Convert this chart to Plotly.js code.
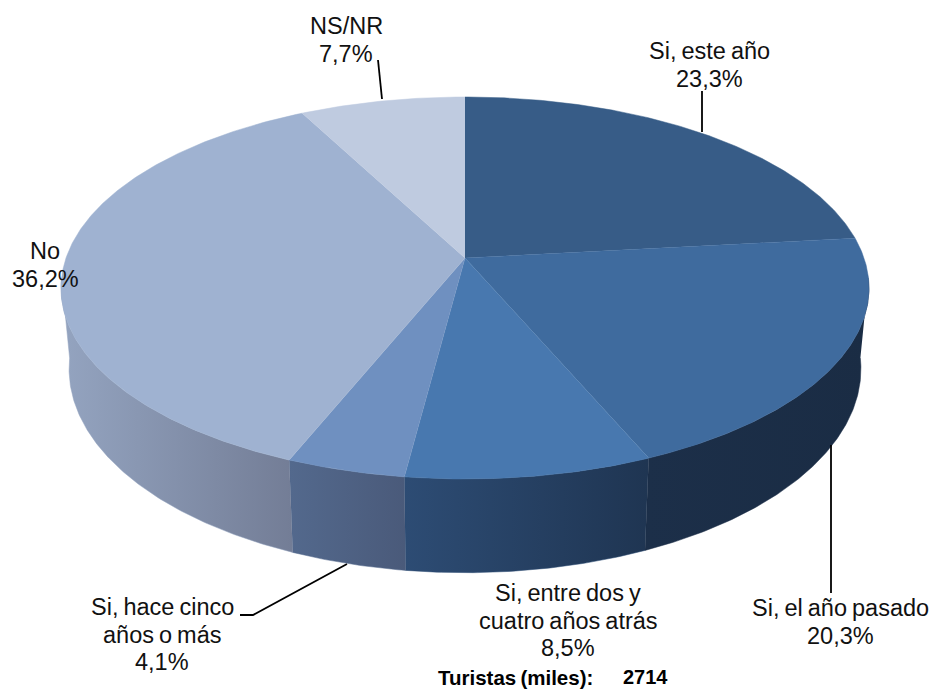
<!DOCTYPE html>
<html><head><meta charset="utf-8">
<script src="https://cdn.plot.ly/plotly-3.0.1.min.js"></script>
<style>html,body{margin:0;padding:0;background:#fff}#c{width:931px;height:691px}
.annotation-text{word-spacing:-1.5px}</style></head>
<body><div id="c"></div>
<script>
const categories = ["Si, este año","Si, el año pasado","Si, entre dos y cuatro años atrás","Si, hace cinco años o más","No","NS/NR"];
const values = [23.3,20.3,8.5,4.1,36.2,7.7];
const topColors = ["#375C87","#3F6B9E","#4878AF","#6F90C0","#9FB2D1","#BFCBE0"];
const wallLeft  = ["#1b2d45","#1c2f49","#2d4c74","#53698d","#94a4c0","#94a4c0"];
const wallRight = ["#1b2d45","#1a2c44","#1f3552","#4a5a7a","#737d96","#737d96"];
const labelLines = [["Si, este año","23,3%"],["Si, el año pasado","20,3%"],["Si, entre dos y","cuatro años atrás","8,5%"],["Si, hace cinco","años o más","4,1%"],["No","36,2%"],["NS/NR","7,7%"]];
const labelX = [709,840,568,162,45,346];
const labelY = [51,608,593,607,251,26];
const footerTexts = ["Turistas (miles):","2714"];
const leaderLines = [
  [[702,91],[702,132]],
  [[831,445],[831,593]],
  [[347,564],[253,615],[240,615]],
  [[378,60],[382,99]]
];

const cx=465, cy=258, Rx=399, Ry=186.3, p=0.157, depth=79, shrink=0.98;
function proj(tDeg){
  const t=tDeg*Math.PI/180, X=Math.sin(t), Y=Math.cos(t), s=1/(1+p*Y);
  return {x:cx+Rx*X*s, y:cy-Ry*Y*s, s};
}
function bottom(tDeg){
  const q=proj(tDeg);
  return {x:cx+(q.x-cx)*shrink, y:q.y+depth*q.s};
}
const total=values.reduce((a,b)=>a+b,0);
let acc=0;
const spans=values.map(v=>{const a=acc/total*360; acc+=v; return [a,acc/total*360];});

function steps(a,b){const n=Math.max(2,Math.ceil(Math.abs(b-a)/0.5)),o=[];for(let i=0;i<=n;i++)o.push(a+(b-a)*i/n);return o;}

const traces=[];
spans.forEach(([a,b],i)=>{
  const lo=Math.max(a,96), hi=Math.min(b,264);
  if(hi<=lo) return;
  const ts=steps(lo,hi);
  const up=ts.map(proj), dn=ts.slice().reverse().map(bottom);
  const pts=up.concat(dn);
  traces.push({type:"scatter",mode:"lines",x:pts.map(q=>q.x),y:pts.map(q=>q.y),fill:"toself",
    line:{width:0.5,color:wallLeft[i]},hoverinfo:"skip",showlegend:false,
    fillcolor:wallLeft[i],
    fillgradient:{type:"horizontal",colorscale:[[0,wallLeft[i]],[1,wallRight[i]]]}});
});
spans.forEach(([a,b],i)=>{
  const pts=[{x:cx,y:cy}].concat(steps(a,b).map(proj));
  traces.push({type:"scatter",mode:"lines",x:pts.map(q=>q.x),y:pts.map(q=>q.y),fill:"toself",
    fillcolor:topColors[i],line:{width:0.5,color:topColors[i]},name:categories[i],hoverinfo:"name",showlegend:false});
});
leaderLines.forEach(l=>traces.push({type:"scatter",mode:"lines",x:l.map(q=>q[0]),y:l.map(q=>q[1]),
  line:{color:"#000",width:1.8},hoverinfo:"skip",showlegend:false}));

const font={family:"Liberation Sans, Arial, sans-serif",size:23.5,color:"#111"};
const annotations=[];
labelLines.forEach((lines,i)=>lines.forEach((t,j)=>annotations.push({text:t,x:labelX[i],y:labelY[i]+j*27.6,xref:"x",yref:"y",
  showarrow:false,xanchor:"center",yanchor:"middle",align:"center",font})));
annotations.push({text:"<b>"+footerTexts[0]+"</b>",x:515,y:677,xref:"x",yref:"y",showarrow:false,xanchor:"center",yanchor:"middle",font:{...font,size:20.5,color:"#000"}});
annotations.push({text:"<b>"+footerTexts[1]+"</b>",x:645,y:677,xref:"x",yref:"y",showarrow:false,xanchor:"center",yanchor:"middle",font:{...font,size:20,color:"#000"}});

Plotly.newPlot("c",traces,{
  width:931,height:691,margin:{l:0,r:0,t:0,b:0},paper_bgcolor:"#fff",plot_bgcolor:"#fff",showlegend:false,
  xaxis:{range:[0,931],visible:false,fixedrange:true},
  yaxis:{range:[691,0],visible:false,fixedrange:true},
  annotations
},{displayModeBar:false,staticPlot:true});
</script></body></html>
